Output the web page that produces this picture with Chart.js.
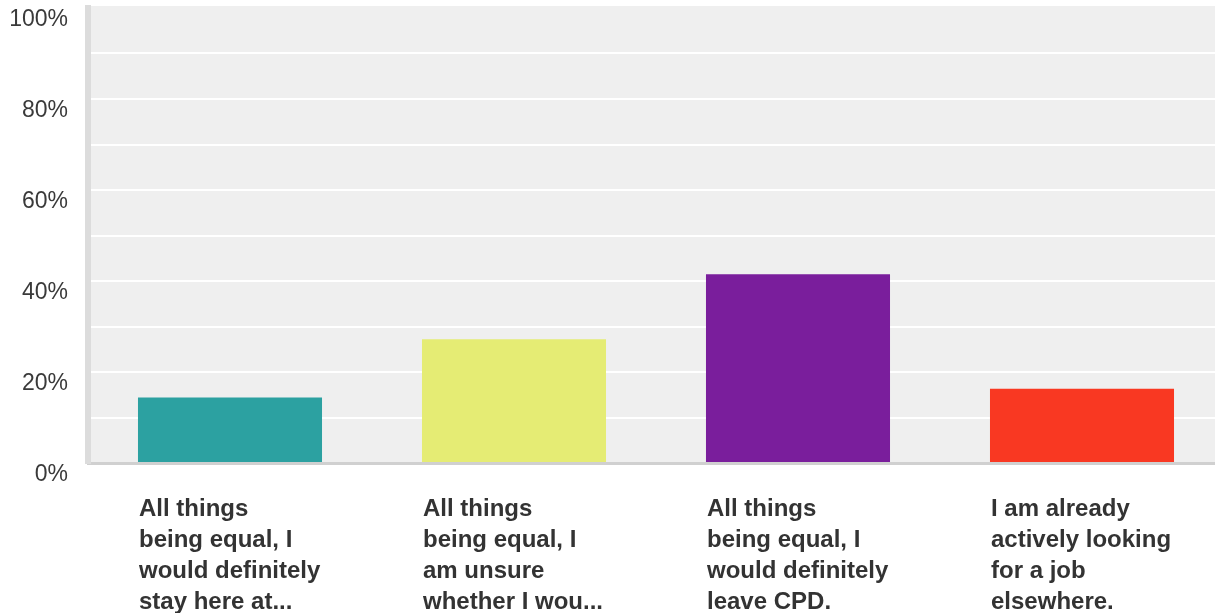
<!DOCTYPE html>
<html>
<head>
<meta charset="utf-8">
<script src="https://cdn.jsdelivr.net/npm/chart.js@4"></script>
<style>
html,body{margin:0;padding:0;overflow:hidden;background:#fff;}
canvas{display:block;}
</style>
</head>
<body>
<canvas id="c" width="1225" height="613"></canvas>
<script>
const categories = [
  ["All things", "being equal, I", "would definitely", "stay here at..."],
  ["All things", "being equal, I", "am unsure", "whether I wou..."],
  ["All things", "being equal, I", "would definitely", "leave CPD."],
  ["I am already", "actively looking", "for a job", "elsewhere."]
];
const values = [14.4, 27.2, 41.5, 16.3];
const barColors = ["#2ca1a1", "#e5ec74", "#7a1e9c", "#f93822"];
const yTickLabels = {0: "0%", 20: "20%", 40: "40%", 60: "60%", 80: "80%", 100: "100%"};

const bgPlugin = {
  id: 'plotBg',
  beforeDraw(chart) {
    const {ctx, chartArea: a} = chart;
    ctx.save();
    ctx.fillStyle = '#efefef';
    ctx.fillRect(a.left, a.top - 2, a.right - a.left, a.bottom - a.top + 2);
    ctx.restore();
  }
};

new Chart(document.getElementById('c'), {
  type: 'bar',
  data: {
    labels: categories,
    datasets: [{
      data: values,
      backgroundColor: barColors,
      borderWidth: 0,
      barPercentage: 0.648,
      categoryPercentage: 1
    }]
  },
  options: {
    responsive: false,
    maintainAspectRatio: false,
    animation: false,
    devicePixelRatio: 1,
    layout: {padding: {top: 8, right: 1, left: 0, bottom: 0}},
    plugins: {legend: {display: false}, tooltip: {enabled: false}},
    scales: {
      x: {
        afterFit(scale) {
          scale.height = 150;
          scale.paddingLeft = 0; scale.paddingRight = 0;
          scale.paddingTop = 0; scale.paddingBottom = 0;
        },
        grid: {display: false, drawTicks: false},
        border: {display: true, color: '#d0d0d0', width: 3},
        ticks: {
          autoSkip: false,
          maxRotation: 0,
          minRotation: 0,
          align: 'start',
          labelOffset: -91,
          padding: 31,
          color: '#333333',
          font: {family: '"Liberation Sans", Arial, sans-serif', size: 24, weight: 'bold', lineHeight: 1.29}
        }
      },
      y: {
        min: 0,
        max: 100,
        afterFit(scale) {
          scale.width = 88;
          scale.paddingLeft = 0; scale.paddingRight = 0;
          scale.paddingTop = 0; scale.paddingBottom = 0;
        },
        grid: {
          drawTicks: false,
          lineWidth: 2,
          color: (ctx) => (ctx.tick && (ctx.tick.value === 0 || ctx.tick.value === 100)) ? 'rgba(0,0,0,0)' : '#ffffff'
        },
        border: {display: true, color: '#dcdcdc', width: 6},
        ticks: {
          stepSize: 10,
          autoSkip: false,
          padding: 20,
          labelOffset: 12,
          color: '#3a3a3a',
          font: {family: '"Liberation Sans", Arial, sans-serif', size: 23},
          callback: (v) => (yTickLabels[v] !== undefined ? yTickLabels[v] : '')
        }
      }
    }
  },
  plugins: [bgPlugin]
});
</script>
</body>
</html>
